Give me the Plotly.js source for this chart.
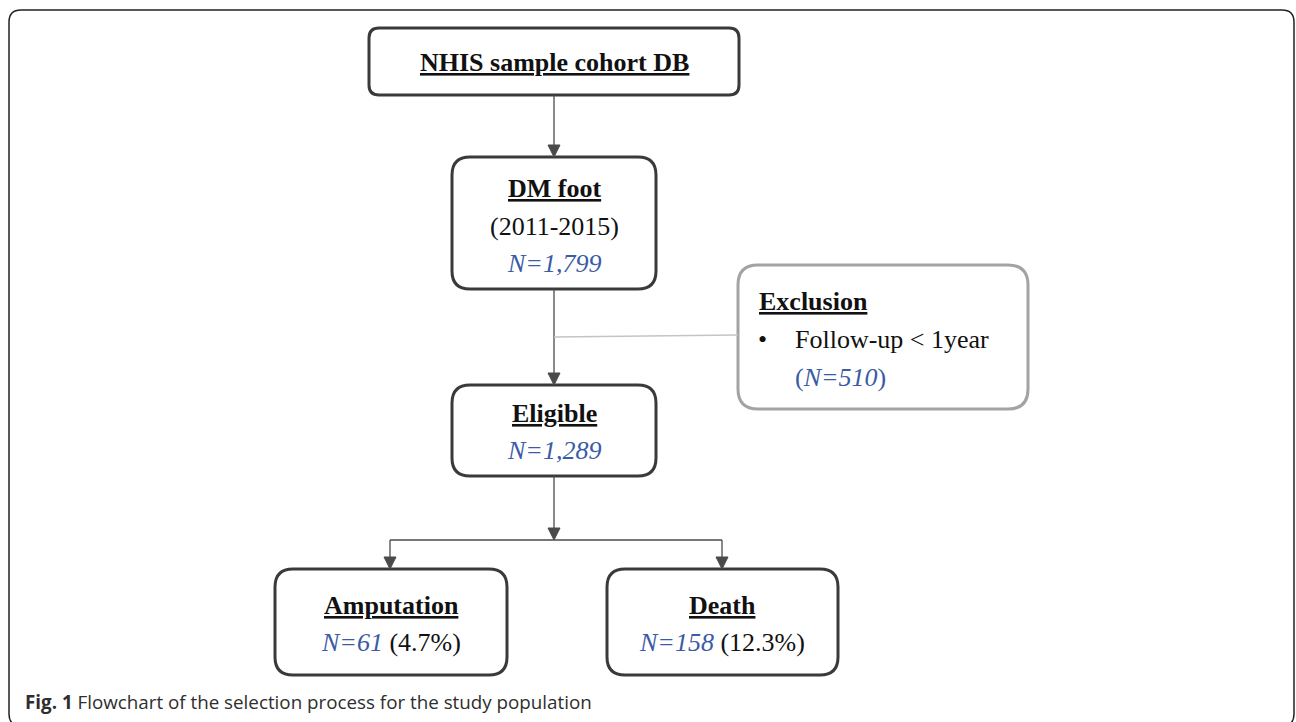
<!DOCTYPE html>
<html>
<head>
<meta charset="utf-8">
<script src="https://cdn.plot.ly/plotly-3.0.1.min.js"></script>
<style>
html,body{margin:0;padding:0;background:#fff;}
#chart{width:1296px;height:722px;}
</style>
</head>
<body>
<div id="chart"></div>
<script>
// ---- data ----
const sourceName = "NHIS sample cohort DB";
const cohortTitle = "DM foot";
const studyYears = "(2011-2015)";
const cohortN = "1,799";
const exclusionTitle = "Exclusion";
const exclusionReason = "Follow-up < 1year";
const excludedN = "510";
const eligibleTitle = "Eligible";
const eligibleN = "1,289";
const outcomeTitles = ["Amputation", "Death"];
const outcomeN = ["61", "158"];
const outcomePct = ["4.7%", "12.3%"];
const captionBold = "Fig. 1";
const captionText = "Flowchart of the selection process for the study population";

// ---- layout geometry (pixels) ----
const DARK = "#3a3a3a", ARROW = "#4a4a4a", BLUE = "#3b5ba5", GREY = "#a3a3a3";
const SERIF = "Liberation Serif, Times New Roman, serif";

function rrect(x0, y0, x1, y1, r) {
  return `M ${x0+r},${y0} L ${x1-r},${y0} Q ${x1},${y0} ${x1},${y0+r} L ${x1},${y1-r} Q ${x1},${y1} ${x1-r},${y1} L ${x0+r},${y1} Q ${x0},${y1} ${x0},${y1-r} L ${x0},${y0+r} Q ${x0},${y0} ${x0+r},${y0} Z`;
}
function boxShape(b, color, w) {
  return {type: "path", xref: "x", yref: "y", path: rrect(b[0], b[1], b[2], b[3], b[4]),
          line: {color: color, width: w}, fillcolor: "rgba(0,0,0,0)", layer: "above"};
}
function lineShape(x0, y0, x1, y1, color, w) {
  return {type: "line", xref: "x", yref: "y", x0: x0, y0: y0, x1: x1, y1: y1,
          line: {color: color, width: w}, layer: "above"};
}
function arrowHead(x, y) { // tip at (x,y), pointing down
  return {type: "path", xref: "x", yref: "y",
          path: `M ${x-6},${y-12} L ${x+6},${y-12} L ${x},${y} Z`,
          fillcolor: ARROW, line: {color: ARROW, width: 1}, layer: "above"};
}

const boxes = {
  frame: [9, 10, 1294, 726, 12],
  src: [369, 28, 739, 95, 10],
  cohort: [452, 157, 656, 289, 18],
  excl: [738, 265, 1028, 409, 20],
  elig: [452, 385, 656, 476, 18],
  amp: [275, 569, 507, 675, 18],
  death: [607, 569, 838, 675, 18]
};
const cx = 554;

const shapes = [
  boxShape(boxes.frame, "#222", 1.5),
  boxShape(boxes.src, DARK, 3),
  boxShape(boxes.cohort, DARK, 3),
  boxShape(boxes.excl, GREY, 3),
  boxShape(boxes.elig, DARK, 3),
  boxShape(boxes.amp, DARK, 3),
  boxShape(boxes.death, DARK, 3),
  lineShape(cx, 95, cx, 148, ARROW, 1.3), arrowHead(cx, 157),
  lineShape(cx, 289, cx, 376, ARROW, 1.3), arrowHead(cx, 385),
  lineShape(cx, 337, 738, 335, "#c4c4c4", 1.3),
  lineShape(cx, 476, cx, 531, ARROW, 1.3), arrowHead(cx, 540),
  lineShape(390, 540, 722, 540, ARROW, 1.3),
  lineShape(390, 540, 390, 560, ARROW, 1.3), arrowHead(390, 569),
  lineShape(722, 540, 722, 560, ARROW, 1.3), arrowHead(722, 569)
];

function ann(x, y, text, opts) {
  return Object.assign({xref: "x", yref: "y", x: x, y: y, text: text, showarrow: false,
    xanchor: "center", yanchor: "middle",
    font: {family: SERIF, size: 26, color: "#111"}}, opts || {});
}
const blue = s => `<span style="color:${BLUE}"><i>${s}</i></span>`;

const annotations = [
  ann(cx, 62, `<b><u>${sourceName}</u></b>`),
  ann(cx, 188, `<b><u>${cohortTitle}</u></b>`),
  ann(cx, 226, studyYears),
  ann(cx, 263, blue("N=" + cohortN)),
  ann(757, 301, `<b><u>${exclusionTitle}</u></b>`, {xanchor: "left"}),
  ann(762, 339, "•", {xanchor: "center"}),
  ann(793, 339, exclusionReason, {xanchor: "left"}),
  ann(793, 377, `<span style="color:${BLUE}">(<i>N=${excludedN}</i>)</span>`, {xanchor: "left"}),
  ann(cx, 413, `<b><u>${eligibleTitle}</u></b>`),
  ann(cx, 450, blue("N=" + eligibleN)),
  ann(391, 605, `<b><u>${outcomeTitles[0]}</u></b>`),
  ann(391, 642, blue("N=" + outcomeN[0]) + ` (${outcomePct[0]})`),
  ann(722, 605, `<b><u>${outcomeTitles[1]}</u></b>`),
  ann(722, 642, blue("N=" + outcomeN[1]) + ` (${outcomePct[1]})`),
  ann(23, 702, `<b>${captionBold}</b> ${captionText}`,
      {xanchor: "left", font: {family: "Open Sans, Noto Sans, sans-serif", size: 18.8, color: "#2e2e2e"}})
];

const layout = {
  width: 1296, height: 722,
  margin: {l: 0, r: 0, t: 0, b: 0, pad: 0},
  paper_bgcolor: "#fff", plot_bgcolor: "#fff",
  showlegend: false,
  xaxis: {range: [0, 1296], visible: false, fixedrange: true},
  yaxis: {range: [722, 0], visible: false, fixedrange: true},
  shapes: shapes,
  annotations: annotations
};

Plotly.newPlot("chart", [{x: [], y: [], type: "scatter", hoverinfo: "skip"}], layout,
  {displayModeBar: false, staticPlot: true});
</script>
</body>
</html>
